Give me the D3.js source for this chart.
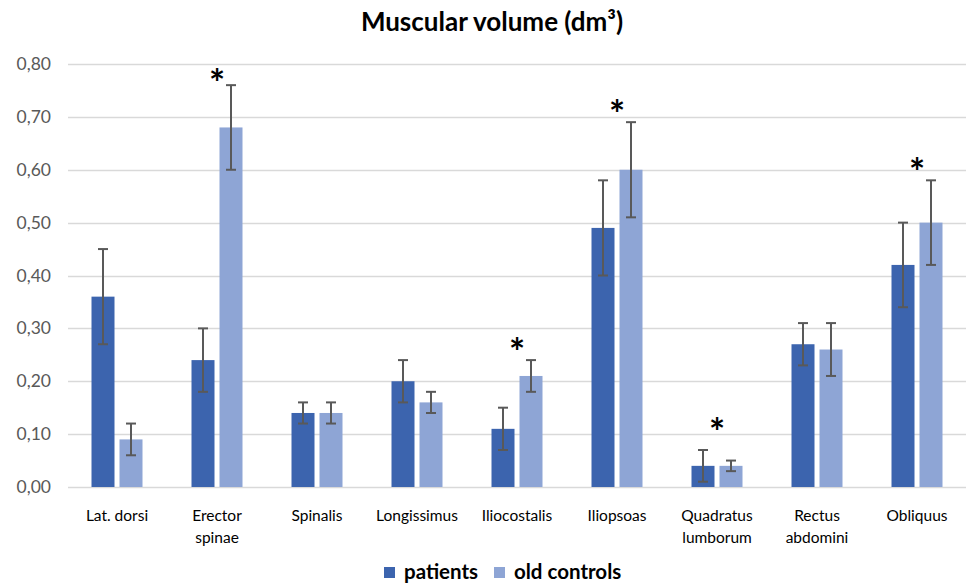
<!DOCTYPE html>
<html>
<head>
<meta charset="utf-8">
<script src="https://cdn.jsdelivr.net/npm/d3@7"></script>
<style>
  html, body { margin: 0; padding: 0; background: #fff; }
  svg { display: block; }
  text { font-family: Lato, "Open Sans", sans-serif; }
</style>
</head>
<body>
<svg id="chart" width="966" height="584"></svg>
<script>
// ---- Data ----
const categories = [
  ["Lat. dorsi"],
  ["Erector", "spinae"],
  ["Spinalis"],
  ["Longissimus"],
  ["Iliocostalis"],
  ["Iliopsoas"],
  ["Quadratus", "lumborum"],
  ["Rectus", "abdomini"],
  ["Obliquus"]
];
const seriesNames = ["patients", "old controls"];
const patients      = [0.36, 0.24, 0.14, 0.20, 0.11, 0.49, 0.04, 0.27, 0.42];
const patientsErr   = [0.09, 0.06, 0.02, 0.04, 0.04, 0.09, 0.03, 0.04, 0.08];
const controls      = [0.09, 0.68, 0.14, 0.16, 0.21, 0.60, 0.04, 0.26, 0.50];
const controlsErr   = [0.03, 0.08, 0.02, 0.02, 0.03, 0.09, 0.01, 0.05, 0.08];
const significance  = [null, 0.78, null, null, 0.27, 0.72, 0.12, null, 0.61]; // asterisk level
const yTicks        = [0, 0.1, 0.2, 0.3, 0.4, 0.5, 0.6, 0.7, 0.8];
const titleText     = "Muscular volume (dm³)";

const colors = ["#3c64ae", "#8ea5d5"];

const svg = d3.select("#chart");
const W = 966, H = 584;
const plotLeft = 67, plotRight = 967, plotTop = 64, plotBottom = 487;

const catKeys = categories.map(c => c.join(" "));
const x = d3.scaleBand().domain(catKeys).range([plotLeft, plotRight]).paddingInner(0).paddingOuter(0);
const xi = d3.scaleBand().domain(seriesNames).range([0, x.bandwidth()])
  .paddingInner(5 / 28).paddingOuter(0.875);
const y = d3.scaleLinear().domain([0, 0.8]).range([plotBottom, plotTop]);

// Title
svg.append("text")
  .attr("x", 492).attr("y", 31)
  .attr("text-anchor", "middle")
  .attr("font-size", 26).attr("font-weight", "bold")
  .attr("fill", "#000")
  .text(titleText);

// Gridlines
svg.append("g").selectAll("line").data(yTicks).join("line")
  .attr("x1", 68).attr("x2", W)
  .attr("y1", d => Math.round(y(d)) + 0.5).attr("y2", d => Math.round(y(d)) + 0.5)
  .attr("stroke", "#d9d9d9").attr("stroke-width", 1.3);

// Y axis labels via d3 axis
const yAxis = d3.axisLeft(y).tickValues(yTicks)
  .tickFormat(d => d.toFixed(2).replace(".", ","))
  .tickSize(0).tickPadding(0);
const yg = svg.append("g").attr("transform", "translate(51,0)").call(yAxis);
yg.select(".domain").remove();
yg.selectAll("text").attr("font-size", 17.5).attr("fill", "#595959")
  .attr("font-family", "Lato, 'Open Sans', sans-serif");

// Bars
const rows = catKeys.map((k, i) => ({
  key: k,
  vals: [
    { s: seriesNames[0], v: patients[i], e: patientsErr[i], c: colors[0] },
    { s: seriesNames[1], v: controls[i], e: controlsErr[i], c: colors[1] }
  ]
}));

const groups = svg.append("g").selectAll("g").data(rows).join("g")
  .attr("transform", d => `translate(${x(d.key)},0)`);

groups.selectAll("rect").data(d => d.vals).join("rect")
  .attr("x", d => xi(d.s))
  .attr("width", xi.bandwidth())
  .attr("y", d => y(d.v))
  .attr("height", d => y(0) - y(d.v))
  .attr("fill", d => d.c);

// Error bars
const eb = groups.selectAll("g.err").data(d => d.vals).join("g").attr("class", "err")
  .attr("transform", d => `translate(${xi(d.s) + xi.bandwidth() / 2},0)`);
eb.append("line")
  .attr("y1", d => y(Math.max(0, d.v - d.e))).attr("y2", d => y(d.v + d.e))
  .attr("stroke", "#595959").attr("stroke-width", 2);
eb.append("line")
  .attr("x1", -5).attr("x2", 5)
  .attr("y1", d => y(d.v + d.e)).attr("y2", d => y(d.v + d.e))
  .attr("stroke", "#595959").attr("stroke-width", 2);
eb.append("line")
  .attr("x1", -5).attr("x2", 5)
  .attr("y1", d => y(Math.max(0, d.v - d.e))).attr("y2", d => y(Math.max(0, d.v - d.e)))
  .attr("stroke", "#595959").attr("stroke-width", 2);

// Asterisks
svg.append("g").selectAll("text")
  .data(catKeys.map((k, i) => ({ k, s: significance[i] })).filter(d => d.s !== null))
  .join("text")
  .attr("x", d => x(d.k) + x.bandwidth() / 2)
  .attr("y", d => y(d.s) + 22)
  .attr("text-anchor", "middle")
  .attr("font-size", 38).attr("font-weight", "bold")
  .attr("font-family", "'DejaVu Sans', sans-serif")
  .attr("fill", "#000")
  .text("*");

// X category labels
const xl = svg.append("g").selectAll("text").data(categories).join("text")
  .attr("x", d => x(d.join(" ")) + x.bandwidth() / 2)
  .attr("y", 521)
  .attr("text-anchor", "middle")
  .attr("font-size", 15.5)
  .attr("fill", "#000");
xl.selectAll("tspan").data(d => d).join("tspan")
  .attr("x", function() { return d3.select(this.parentNode).attr("x"); })
  .attr("dy", (d, i) => i === 0 ? 0 : 22)
  .text(d => d);

// Legend
const legend = svg.append("g").attr("transform", "translate(0,574)");
const legendItems = [
  { name: seriesNames[0], c: colors[0], x: 384 },
  { name: seriesNames[1], c: colors[1], x: 494 }
];
const li = legend.selectAll("g").data(legendItems).join("g")
  .attr("transform", d => `translate(${d.x},0)`);
li.append("rect").attr("x", 0).attr("y", -7).attr("width", 11).attr("height", 11).attr("fill", d => d.c);
li.append("text").attr("x", 20).attr("y", 5)
  .attr("font-size", 20.5).attr("font-weight", "bold").attr("fill", "#000")
  .text(d => d.name);
</script>
</body>
</html>
